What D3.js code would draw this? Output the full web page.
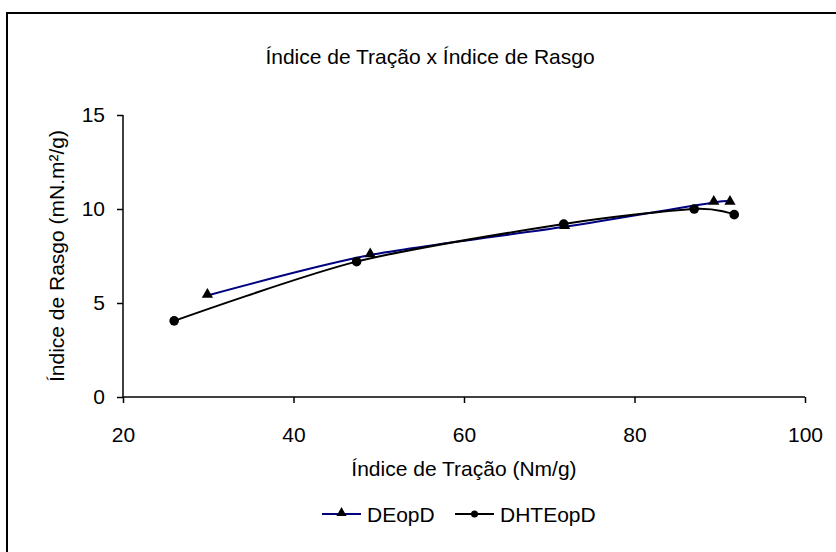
<!DOCTYPE html>
<html>
<head>
<meta charset="utf-8">
<script src="https://cdn.jsdelivr.net/npm/d3@7"></script>
<style>
  body { margin: 0; background: #fff; }
  text { font-family: "Liberation Sans", Arial, sans-serif; fill: #000; }
</style>
</head>
<body>
<div id="chart"></div>
<script>
// data
var tracaoDEopD = [29.9, 49.0, 71.8, 89.3, 91.2];
var rasgoDEopD = [5.4, 7.55, 9.05, 10.35, 10.35];
var tracaoDHTEopD = [26.0, 47.4, 71.7, 87.0, 91.7];
var rasgoDHTEopD = [4.05, 7.2, 9.2, 10.0, 9.7];
var xTicks = [20, 40, 60, 80, 100];
var yTicks = [0, 5, 10, 15];
var seriesNames = ["DEopD", "DHTEopD"];

var width = 836, height = 552;
var margin = {top: 115, right: 31, bottom: 155, left: 123};
var fontSize = "21px";

var svg = d3.select("#chart").append("svg")
    .attr("width", width)
    .attr("height", height);

// outer frame (right and bottom edges fall off the picture)
svg.append("rect")
    .attr("x", 7).attr("y", 13)
    .attr("width", 840).attr("height", 560)
    .attr("fill", "none")
    .attr("stroke", "#000")
    .attr("stroke-width", 2);

var x = d3.scaleLinear().domain([20, 100]).range([margin.left, width - margin.right]);
var y = d3.scaleLinear().domain([0, 15]).range([height - margin.bottom, margin.top]);

// axes
var xAxis = svg.append("g")
    .attr("transform", "translate(0," + y(0) + ")")
    .call(d3.axisBottom(x).tickValues(xTicks).tickSize(6).tickPadding(32));
var yAxis = svg.append("g")
    .attr("transform", "translate(" + x(20) + ",0)")
    .call(d3.axisLeft(y).tickValues(yTicks).tickSize(6).tickPadding(12));

[xAxis, yAxis].forEach(function(a) {
    a.select(".domain").attr("stroke", "#000").attr("stroke-width", 1.5);
    a.selectAll(".tick line").attr("stroke", "#000").attr("stroke-width", 1.5);
    a.selectAll(".tick text").style("font-size", fontSize)
        .style("font-family", "'Liberation Sans', Arial, sans-serif");
});
xAxis.selectAll(".tick text").attr("dy", "0.35em");
xAxis.select(".domain").attr("d", "M" + x(20) + ",0H" + x(100));
yAxis.select(".domain").attr("d", "M0," + y(15) + "V" + y(0));

// titles
svg.append("text")
    .attr("x", 430).attr("y", 64)
    .attr("text-anchor", "middle")
    .style("font-size", fontSize)
    .text("Índice de Tração x Índice de Rasgo");

svg.append("text")
    .attr("x", 464).attr("y", 476)
    .attr("text-anchor", "middle")
    .style("font-size", fontSize)
    .text("Índice de Tração (Nm/g)");

svg.append("text")
    .attr("transform", "translate(64," + ((y(0) + y(15)) / 2) + ") rotate(-90)")
    .attr("text-anchor", "middle")
    .style("font-size", fontSize)
    .text("Índice de Rasgo (mN.m²/g)");

// lines
var line = d3.line()
    .x(function(d) { return x(d[0]); })
    .y(function(d) { return y(d[1]); })
    .curve(d3.curveCardinal.tension(0.2));

var ptsA = d3.zip(tracaoDEopD, rasgoDEopD);
var ptsB = d3.zip(tracaoDHTEopD, rasgoDHTEopD);

svg.append("path")
    .datum(ptsA)
    .attr("d", line)
    .attr("fill", "none")
    .attr("stroke", "#000080")
    .attr("stroke-width", 2);

svg.append("path")
    .datum(ptsB)
    .attr("d", line)
    .attr("fill", "none")
    .attr("stroke", "#000")
    .attr("stroke-width", 2);

var tri = d3.symbol().type(d3.symbolTriangle).size(55);

svg.selectAll(".tri")
    .data(ptsA)
    .enter().append("path")
    .attr("class", "tri")
    .attr("d", tri)
    .attr("transform", function(d) { return "translate(" + x(d[0]) + "," + (y(d[1]) - 1) + ")"; })
    .attr("fill", "#000");

svg.selectAll(".dot")
    .data(ptsB)
    .enter().append("circle")
    .attr("class", "dot")
    .attr("cx", function(d) { return x(d[0]); })
    .attr("cy", function(d) { return y(d[1]); })
    .attr("r", 4.8)
    .attr("fill", "#000");

// legend
var legend = svg.append("g");
var legY = 514;
var leg = [
    {name: seriesNames[0], x0: 322, color: "#000080", mark: "tri"},
    {name: seriesNames[1], x0: 455, color: "#000", mark: "dot"}
];
leg.forEach(function(l) {
    legend.append("line")
        .attr("x1", l.x0).attr("x2", l.x0 + 39)
        .attr("y1", legY).attr("y2", legY)
        .attr("stroke", l.color).attr("stroke-width", 2);
    if (l.mark === "tri") {
        legend.append("path")
            .attr("d", d3.symbol().type(d3.symbolTriangle).size(45))
            .attr("transform", "translate(" + (l.x0 + 19.5) + "," + (legY - 1) + ")")
            .attr("fill", "#000");
    } else {
        legend.append("circle")
            .attr("cx", l.x0 + 19.5).attr("cy", legY).attr("r", 3.5)
            .attr("fill", "#000");
    }
    legend.append("text")
        .attr("x", l.x0 + 45).attr("y", legY + 8)
        .style("font-size", fontSize)
        .text(l.name);
});
</script>
</body>
</html>
